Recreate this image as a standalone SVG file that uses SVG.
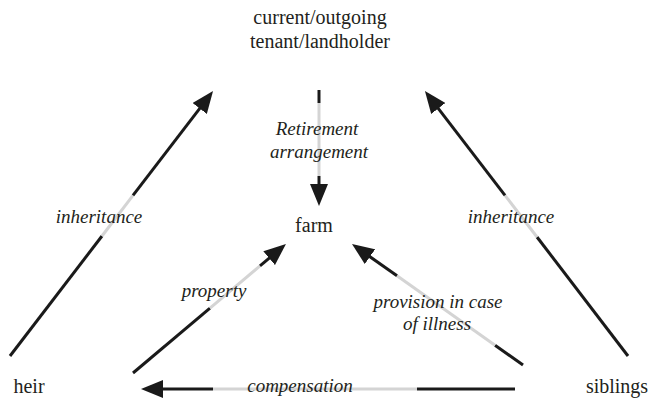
<svg xmlns="http://www.w3.org/2000/svg" width="648" height="400" viewBox="0 0 648 400">
<style>
.ln{stroke:#1a1a1a;stroke-width:3;fill:none}
.gr{stroke:#d4d4d4;stroke-width:3;fill:none}
</style>
<defs>
<marker id="ah" viewBox="0 0 22 18" refX="4" refY="9" markerWidth="22" markerHeight="18" markerUnits="userSpaceOnUse" orient="auto">
<path d="M0,0 L22,9 L0,18 z" fill="#1a1a1a"/>
</marker>
</defs>
<g id="connectors">
<line class="ln" x1="10" y1="356" x2="102" y2="236"/>
<line class="gr" x1="102" y1="236" x2="133" y2="195.4"/>
<line class="ln" x1="133" y1="195.4" x2="202.1" y2="105.3" marker-end="url(#ah)"/>
<line class="ln" x1="628" y1="356" x2="537" y2="237"/>
<line class="gr" x1="537" y1="237" x2="505" y2="195.4"/>
<line class="ln" x1="505" y1="195.4" x2="435.9" y2="105.3" marker-end="url(#ah)"/>
<line class="ln" x1="319" y1="90" x2="319" y2="103"/>
<line class="gr" x1="319" y1="103" x2="319" y2="176"/>
<line class="ln" x1="319" y1="176" x2="319" y2="188" marker-end="url(#ah)"/>
<line class="ln" x1="133" y1="373" x2="210" y2="308.1"/>
<line class="gr" x1="210" y1="308.1" x2="260" y2="265.9"/>
<line class="ln" x1="260" y1="265.9" x2="272.2" y2="255.6" marker-end="url(#ah)"/>
<line class="ln" x1="523" y1="365" x2="495" y2="345.2"/>
<line class="gr" x1="495" y1="345.2" x2="397" y2="275.8"/>
<line class="ln" x1="397" y1="275.8" x2="366.7" y2="254.4" marker-end="url(#ah)"/>
<line class="ln" x1="515" y1="389" x2="417" y2="389"/>
<line class="gr" x1="417" y1="389" x2="213" y2="389"/>
<line class="ln" x1="213" y1="389" x2="159" y2="389" marker-end="url(#ah)"/>
<g font-family="Liberation Serif, DejaVu Serif, Times New Roman, serif" font-size="19" font-style="italic" fill="#231f20" text-anchor="middle">
<text x="317" y="135">Retirement</text>
<text x="319" y="158">arrangement</text>
<text x="99" y="223">inheritance</text>
<text x="511" y="223">inheritance</text>
<text x="214" y="297">property</text>
<text x="438" y="308">provision in case</text>
<text x="437" y="330">of illness</text>
<text x="300" y="392">compensation</text>
</g>
</g>
<g font-family="Liberation Serif, DejaVu Serif, Times New Roman, serif" font-size="20" fill="#231f20" text-anchor="middle">
<g id="node-current"><text x="320" y="24">current/outgoing</text><text x="320" y="48">tenant/landholder</text></g>
<g id="node-farm"><text x="314" y="232">farm</text></g>
<g id="node-heir"><text x="29" y="393">heir</text></g>
<g id="node-siblings"><text x="617" y="393">siblings</text></g>
</g>
</svg>
